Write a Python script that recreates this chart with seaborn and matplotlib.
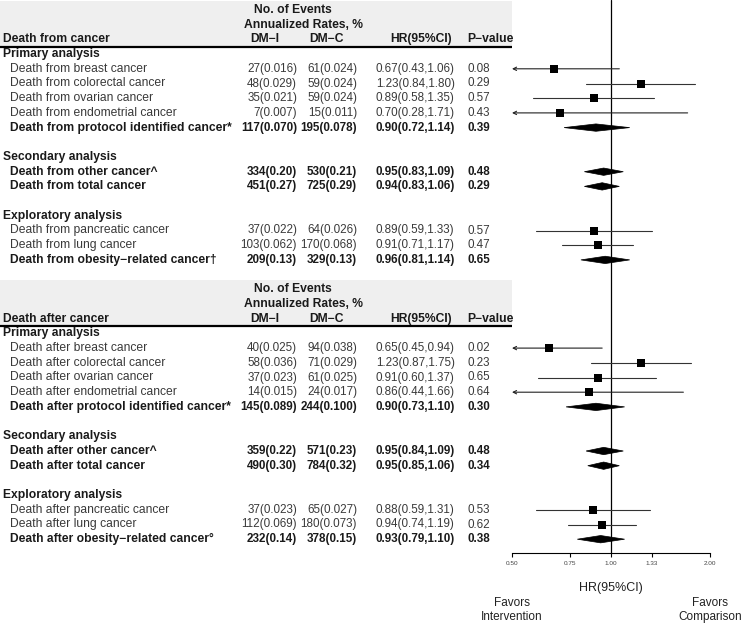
import matplotlib
matplotlib.use("Agg")
import matplotlib.pyplot as plt
import matplotlib.transforms as mtransforms
from matplotlib.patches import Rectangle, Polygon
from matplotlib.ticker import NullLocator
import pandas as pd
import seaborn as sns

# ---- data -------------------------------------------------------------
sections = ["Primary analysis", "Secondary analysis", "Exploratory analysis"]
section_sizes = [5, 2, 3]
is_summary = [False, False, False, False, True, True, True, False, False, True]

from_labels = [
    "Death from breast cancer", "Death from colorectal cancer",
    "Death from ovarian cancer", "Death from endometrial cancer",
    "Death from protocol identified cancer*", "Death from other cancer^",
    "Death from total cancer", "Death from pancreatic cancer",
    "Death from lung cancer", "Death from obesity\u2212related cancer\u2020",
]
from_dmi = ["27(0.016)", "48(0.029)", "35(0.021)", "7(0.007)", "117(0.070)",
            "334(0.20)", "451(0.27)", "37(0.022)", "103(0.062)", "209(0.13)"]
from_dmc = ["61(0.024)", "59(0.024)", "59(0.024)", "15(0.011)", "195(0.078)",
            "530(0.21)", "725(0.29)", "64(0.026)", "170(0.068)", "329(0.13)"]
from_hr = [0.67, 1.23, 0.89, 0.70, 0.90, 0.95, 0.94, 0.89, 0.91, 0.96]
from_lo = [0.43, 0.84, 0.58, 0.28, 0.72, 0.83, 0.83, 0.59, 0.71, 0.81]
from_hi = [1.06, 1.80, 1.35, 1.71, 1.14, 1.09, 1.06, 1.33, 1.17, 1.14]
from_p = ["0.08", "0.29", "0.57", "0.43", "0.39", "0.48", "0.29", "0.57", "0.47", "0.65"]

after_labels = [
    "Death after breast cancer", "Death after colorectal cancer",
    "Death after ovarian cancer", "Death after endometrial cancer",
    "Death after protocol identified cancer*", "Death after other cancer^",
    "Death after total cancer", "Death after pancreatic cancer",
    "Death after lung cancer", "Death after obesity\u2212related cancer\u00b0",
]
after_dmi = ["40(0.025)", "58(0.036)", "37(0.023)", "14(0.015)", "145(0.089)",
             "359(0.22)", "490(0.30)", "37(0.023)", "112(0.069)", "232(0.14)"]
after_dmc = ["94(0.038)", "71(0.029)", "61(0.025)", "24(0.017)", "244(0.100)",
             "571(0.23)", "784(0.32)", "65(0.027)", "180(0.073)", "378(0.15)"]
after_hr = [0.65, 1.23, 0.91, 0.86, 0.90, 0.95, 0.95, 0.88, 0.94, 0.93]
after_lo = [0.45, 0.87, 0.60, 0.44, 0.73, 0.84, 0.85, 0.59, 0.74, 0.79]
after_hi = [0.94, 1.75, 1.37, 1.66, 1.10, 1.09, 1.06, 1.31, 1.19, 1.10]
after_p = ["0.02", "0.23", "0.65", "0.64", "0.30", "0.48", "0.34", "0.53", "0.62", "0.38"]

panels = [
    ("Death from cancer", from_labels, from_dmi, from_dmc, from_hr, from_lo, from_hi, from_p),
    ("Death after cancer", after_labels, after_dmi, after_dmc, after_hr, after_lo, after_hi, after_p),
]

x_ticks = [0.50, 0.75, 1.00, 1.33, 2.00]

# ---- layout helpers ---------------------------------------------------
W, H = 745, 625
ROW0, STEP = 10.0, 14.7          # pixel y of first row, row spacing
AX_BOTTOM = 553.0


def fx(px):
    return px / W


sns.set_style("white")
plt.rcParams["font.family"] = ["Liberation Sans", "DejaVu Sans"]
FS = 8.7
FS_NUM = 8.4
TXT = "#1a1a1a"
TXT_REG = "#3a3a3a"

fig = plt.figure(figsize=(W / 100, H / 100), dpi=100)
ax = fig.add_axes([fx(512), 1 - AX_BOTTOM / H, fx(198), AX_BOTTOM / H])
ax.set_xscale("log", base=2)
ax.set_xlim(0.5, 2.0)
ax.set_ylim((AX_BOTTOM - ROW0) / STEP, (0 - ROW0) / STEP)

tr = mtransforms.blended_transform_factory(fig.transFigure, ax.transData)

# build rows
records = []
row = 0
for title, labels, dmi, dmc, hr, lo, hi, pv in panels:
    hdr = row
    ax.add_patch(Rectangle((0, hdr - 0.62), fx(512), 3.15, transform=tr,
                           facecolor="#efefef", edgecolor="none", clip_on=False, zorder=0))
    ax.plot([0, fx(512)], [hdr + 2.53, hdr + 2.53], transform=tr, color="black",
            lw=1.6, clip_on=False, solid_capstyle="butt")
    ax.text(fx(293), hdr, "No. of Events", transform=tr, ha="center", va="center",
            fontsize=FS, fontweight="bold", color=TXT)
    ax.text(fx(303), hdr + 1, "Annualized Rates, %", transform=tr, ha="center",
            va="center", fontsize=FS, fontweight="bold", color=TXT)
    ax.text(fx(3), hdr + 2, title, transform=tr, ha="left", va="center",
            fontsize=FS, fontweight="bold", color=TXT)
    ax.text(fx(265), hdr + 2, "DM\u2212I", transform=tr, ha="center", va="center",
            fontsize=FS, fontweight="bold", color=TXT)
    ax.text(fx(327), hdr + 2, "DM\u2212C", transform=tr, ha="center", va="center",
            fontsize=FS, fontweight="bold", color=TXT)
    ax.text(fx(452), hdr + 2, "HR(95%CI)", transform=tr, ha="right", va="center",
            fontsize=FS, fontweight="bold", color=TXT)
    ax.text(fx(467), hdr + 2, "P\u2212value", transform=tr, ha="left", va="center",
            fontsize=FS, fontweight="bold", color=TXT)
    row += 3
    k = 0
    for sec, n in zip(sections, section_sizes):
        ax.text(fx(3), row, sec, transform=tr, ha="left", va="center",
                fontsize=FS, fontweight="bold", color=TXT)
        row += 1
        for _ in range(n):
            wt = "bold" if is_summary[k] else "normal"
            col = TXT if is_summary[k] else TXT_REG
            ax.text(fx(10), row, labels[k], transform=tr, ha="left", va="center",
                    fontsize=FS, fontweight=wt, color=col)
            ax.text(fx(297), row, dmi[k], transform=tr, ha="right", va="center",
                    fontsize=FS_NUM, fontweight=wt, color=col)
            ax.text(fx(357), row, dmc[k], transform=tr, ha="right", va="center",
                    fontsize=FS_NUM, fontweight=wt, color=col)
            ax.text(fx(376), row, f"{hr[k]:.2f}({lo[k]:.2f},{hi[k]:.2f})", transform=tr,
                    ha="left", va="center", fontsize=FS_NUM, fontweight=wt, color=col)
            ax.text(fx(467), row, pv[k], transform=tr, ha="left", va="center",
                    fontsize=FS_NUM, fontweight=wt, color=col)
            records.append(dict(row=row, hr=hr[k], lo=lo[k], hi=hi[k], summary=is_summary[k]))
            row += 1
            k += 1
        row += 1

df = pd.DataFrame(records)

# reference line
ax.axvline(1.0, color="black", lw=0.9, zorder=1)

# CIs / arrows for individual estimates
xmin = 0.5
for r in df[~df["summary"]].itertuples():
    if r.lo < xmin:
        ax.annotate("", xy=(xmin, r.row), xytext=(r.hi, r.row),
                    arrowprops=dict(arrowstyle="->", lw=0.8, color="#222222",
                                    mutation_scale=6, shrinkA=0, shrinkB=0),
                    annotation_clip=False)
    else:
        ax.plot([r.lo, r.hi], [r.row, r.row], color="#333333", lw=0.8, zorder=2)

sns.scatterplot(data=df[~df["summary"]], x="hr", y="row", marker="s", s=30,
                color="black", linewidth=0, legend=False, ax=ax, zorder=3,
                clip_on=False)

# diamonds for pooled estimates
for r in df[df["summary"]].itertuples():
    ax.add_patch(Polygon([(r.lo, r.row), (r.hr, r.row - 0.25), (r.hi, r.row),
                          (r.hr, r.row + 0.25)], closed=True, facecolor="black",
                         edgecolor="black", lw=0.5, zorder=3, clip_on=False))

# axis styling
for s in ["top", "right", "left"]:
    ax.spines[s].set_visible(False)
ax.spines["bottom"].set_color("black")
ax.spines["bottom"].set_linewidth(0.8)
ax.set_yticks([])
ax.xaxis.set_minor_locator(NullLocator())
ax.set_xticks(x_ticks)
ax.set_xticklabels([f"{t:.2f}" for t in x_ticks], fontsize=4.6, color="#444444")
ax.tick_params(axis="x", length=3, width=0.8, pad=3, bottom=True, color="black")
ax.set_xlabel("HR(95%CI)", fontsize=9, color="#222222", labelpad=11)
ax.set_ylabel("")
ax.patch.set_alpha(0)

fav = mtransforms.blended_transform_factory(ax.transData, fig.transFigure)
ax.text(0.5, 1 - 610 / H, "Favors\nIntervention", transform=fav,
        ha="center", va="center", fontsize=8.5, color="#222222", linespacing=1.25)
ax.text(2.0, 1 - 610 / H, "Favors\nComparison", transform=fav,
        ha="center", va="center", fontsize=8.5, color="#222222", linespacing=1.25)

fig.savefig("out.png", dpi=100)
